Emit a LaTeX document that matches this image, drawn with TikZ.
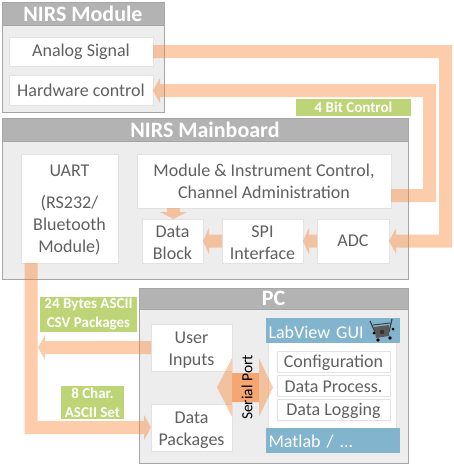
\documentclass[tikz,border=0pt]{standalone}
\usepackage{fontspec}
\setmainfont{Carlito}
\usetikzlibrary{arrows.meta}
\definecolor{hdr}{HTML}{B3B3B3}
\definecolor{bodyg}{HTML}{EDEDED}
\definecolor{edgeg}{HTML}{A6A6A6}
\definecolor{boxe}{HTML}{E2E2E2}
\definecolor{txt}{HTML}{606060}
\definecolor{flow}{HTML}{FB7F2C}
\definecolor{lab}{HTML}{BDD576}
\definecolor{gui}{HTML}{82B4CE}
\newcommand{\lift}[1]{\rule{0pt}{#1pt}}
\tikzset{
  x=1pt,y=-1pt,
  every node/.style={inner sep=0pt,outer sep=0pt},
  group/.style={draw=edgeg,line width=1pt,fill=bodyg},
  header/.style={fill=hdr,draw=edgeg,line width=.6pt,text=white,font=\fontsize{22}{24}\selectfont\bfseries},
  inbox/.style={draw=boxe,line width=1pt,fill=white,text=txt,align=center,font=\fontsize{18}{22}\selectfont},
  tag/.style={fill=lab,text=white,align=center,font=\fontsize{15}{19}\selectfont\bfseries},
  guibar/.style={fill=gui,text=white,font=\fontsize{18}{22}\selectfont},
  band/.style={line width=13pt,draw=flow,line join=miter},
  tip/.style={-{Triangle[length=7pt,width=25pt]}},
}
\begin{document}
\begin{tikzpicture}
\useasboundingbox (0,0) rectangle (454,466);
% NIRS Module
\node[group,minimum width=162pt,minimum height=110pt] (modg) at (83,57) {};
\node[header,minimum width=162pt,minimum height=23pt] (modh) at (83,13.5) {NIRS Module};
\node[inbox,minimum width=144pt,minimum height=29pt] (ana) at (81,51.5) {Analog Signal};
\node[inbox,minimum width=144pt,minimum height=30pt] (hw) at (81,90) {Hardware control};
% Mainboard
\node[group,minimum width=406pt,minimum height=161pt] (mbg) at (205,198.5) {};
\node[header,minimum width=406pt,minimum height=23pt] (mbh) at (205,129.5) {NIRS Mainboard};
\node[inbox,minimum width=97pt,minimum height=109pt] (uart) at (69.5,208.5) {\lift{15}UART\\[10pt](RS232/\\Bluetooth\\Module)};
\node[inbox,minimum width=254pt,minimum height=54pt] (ctl) at (264,181) {Module \& Instrument Control,\\Channel Administration};
\node[inbox,minimum width=61pt,minimum height=44pt] (blk) at (172.5,241) {\lift{15}Data\\Block};
\node[inbox,minimum width=81pt,minimum height=44pt] (spi) at (262.5,241) {\lift{15}SPI\\Interface};
\node[inbox,minimum width=72pt,minimum height=44pt] (adc) at (353,241) {ADC};
% PC
\node[group,minimum width=269pt,minimum height=175pt] (pcg) at (273.5,375.5) {};
\node[header,minimum width=269pt,minimum height=21pt] (pch) at (273.5,298.5) {PC};
\node[inbox,minimum width=81pt,minimum height=47pt] (usr) at (191.5,347.5) {\lift{17}User\\Inputs};
\node[inbox,minimum width=81pt,minimum height=47pt] (pkg) at (191.5,427.5) {\lift{17}Data\\Packages};
\node[draw=boxe,line width=1pt,fill=white,minimum width=128pt,minimum height=87pt] (panel) at (332,385.5) {};
\node[guibar,minimum width=134pt,minimum height=25pt,text width=129pt,align=left] (lv) at (333,330.5) {\lift{16}LabView GUI};
\node[guibar,minimum width=134pt,minimum height=25pt,text width=129pt,align=left] (mat) at (333,440.5) {\lift{15}Matlab / ...};
\node[inbox,minimum width=113pt,minimum height=21pt] (cfg) at (333.5,361.5) {\lift{15}Configuration};
\node[inbox,minimum width=113pt,minimum height=21pt] (prc) at (333.5,385.5) {\lift{15}Data Process.};
\node[inbox,minimum width=113pt,minimum height=21pt] (log) at (333.5,409.5) {\lift{15}Data Logging};
% robot icon
\draw[black!75,line width=1.2pt] (370,321) -- (375,332);
\draw[black!75,line width=1.2pt] (392,319) -- (389,332);
\draw[black!75,line width=1pt] (373,325) -- (390,323);
\fill[gray!70!black] (374,327) -- (389,325) -- (389,336) -- (376,338) -- cycle;
\fill[black] (378,340) circle (1.8);
\fill[black] (390,338) circle (1.8);
\fill[black] (393,329) circle (1.5);
\fill[black] (374,333) circle (1.5);
\fill[black!80] (382,332) circle (2.3);
% connector junction points
\coordinate (a1) at (445.5,51.5);
\coordinate (a2) at (445.5,241);
\coordinate (h1) at (429.5,195.5);
\coordinate (h2) at (429.5,90.5);
\coordinate (u1) at (31,427.5);
\coordinate (u2) at (38,347.5);
\coordinate (sl) at (217,387.5);
\coordinate (sr) at (273,387.5);
% connectors
\begin{scope}[transparency group,opacity=.4]
\draw[band,tip] (ana.east) -- (a1) -- (a2) -- (adc.east);
\draw[band,tip] (ctl.east |- h1) -- (h1) -- (h2) -- (hw.east |- h2);
\draw[band,tip] (uart.south -| u1) -- (u1) -- (pkg.west |- u1);
\draw[band,tip] (usr.west) -- (u2);
\draw[band,-{Triangle[length=7pt,width=27pt]}] ([xshift=1pt]blk.north |- ctl.south) -- ([xshift=1pt]blk.north);
\draw[band,-{Triangle[length=6pt,width=26pt]}] (spi.west) -- (blk.east);
\draw[band,-{Triangle[length=6pt,width=26pt]}] (adc.west) -- (spi.east);
\draw[line width=29pt,draw=flow,{Triangle[length=15pt,width=58pt]}-{Triangle[length=14pt,width=58pt]}] (sl) -- (sr);
\end{scope}
\node[fill=flow,opacity=.4,minimum width=27pt,minimum height=29pt] (sb) at (245.5,387.5) {};
\node[rotate=90,text=black,font=\fontsize{15.5}{17}\selectfont] (sp) at (247,387.5) {Serial Port};
% labels
\node[tag,minimum width=115pt,minimum height=17pt] (t4) at (353.5,107.5) {4 Bit Control};
\node[tag,minimum width=97pt,minimum height=35pt] (t24) at (88.5,314.5) {24 Bytes ASCII\\CSV Packages};
\node[tag,minimum width=63pt,minimum height=33pt] (t8) at (92.5,402.5) {8 Char.\\ASCII Set};
\end{tikzpicture}
\end{document}
